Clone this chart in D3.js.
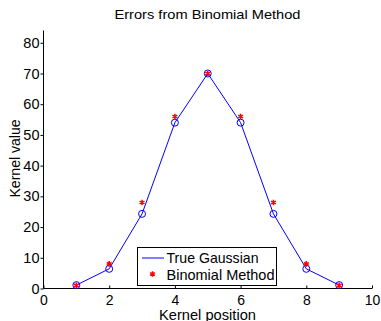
<!DOCTYPE html>
<meta charset="utf-8">
<style>
    body { margin: 0; background: #fff; }
    text { font-family: "Liberation Sans", Arial, sans-serif; fill: #000; }
</style>
<svg id="canvas" width="381" height="321"></svg>
<script src="https://d3js.org/d3.v7.min.js"></script>
<script>

    var positions = [1, 2, 3, 4, 5, 6, 7, 8, 9];
    var gaussian = [1.1, 6.4, 24.3, 54, 70, 54, 24.3, 6.4, 1.1];
    var binomial = [1, 8, 28, 56, 70, 56, 28, 8, 1];
    var xTicks = [0, 2, 4, 6, 8, 10];
    var yTicks = [0, 10, 20, 30, 40, 50, 60, 70, 80];

    var svg = d3.select("svg");

    var x = d3.scaleLinear().domain([0, 10]).range([43.5, 372]);
    var y = d3.scaleLinear().domain([0, 84]).range([288.5, 30.5]);

    // x axis: ticks point inward (up)
    var xAxis = svg.append("g")
                   .attr("transform", "translate(0," + y(0) + ")")
                   .call(d3.axisBottom(x).tickValues(xTicks).tickSize(-3).tickPadding(6));
    xAxis.selectAll("text").attr("font-size", 14).attr("dy", "0.72em");

    var yAxis = svg.append("g")
                   .attr("transform", "translate(" + x(0) + ",0)")
                   .call(d3.axisLeft(y).tickValues(yTicks).tickSize(3).tickPadding(1));
    yAxis.selectAll("text").attr("font-size", 14.5);

    svg.selectAll(".domain").attr("stroke", "#000").attr("d", null);
    xAxis.select(".domain").attr("d", "M" + x(0) + ",0H" + x(10));
    yAxis.select(".domain").attr("d", "M0," + y(0) + "V" + y(84));

    var pts = positions.map(function(p, i) { return {x: p, g: gaussian[i], b: binomial[i]}; });

    var line = d3.line()
                 .x(function(d) { return x(d.x); })
                 .y(function(d) { return y(d.g); });

    svg.append("path")
       .datum(pts)
       .attr("d", line)
       .attr("fill", "none")
       .attr("stroke", "#0000ff")
       .attr("stroke-width", 1);

    svg.append("g")
       .selectAll("circle")
       .data(pts)
       .enter().append("circle")
       .attr("cx", function(d) { return x(d.x); })
       .attr("cy", function(d) { return y(d.g); })
       .attr("r", 3.5)
       .attr("fill", "none")
       .attr("stroke", "#0000ff")
       .attr("stroke-width", 1);

    var star = d3.symbol().type(d3.symbolAsterisk).size(22);

    svg.append("g")
       .selectAll("path")
       .data(pts)
       .enter().append("path")
       .attr("d", star)
       .attr("transform", function(d) { return "translate(" + x(d.x) + "," + y(d.b) + ")"; })
       .attr("fill", "none")
       .attr("stroke", "#ff0000")
       .attr("stroke-width", 1.5);

    // legend
    var legend = svg.append("g");
    legend.append("rect")
          .attr("x", 137.5).attr("y", 247.5)
          .attr("width", 139).attr("height", 38)
          .attr("fill", "#fff").attr("stroke", "#000");
    legend.append("line")
          .attr("x1", 142).attr("x2", 164)
          .attr("y1", 258).attr("y2", 258)
          .attr("stroke", "#0000ff");
    legend.append("path")
          .attr("d", star)
          .attr("transform", "translate(152.5,274)")
          .attr("fill", "none").attr("stroke", "#ff0000").attr("stroke-width", 1.5);
    legend.append("text").attr("x", 166.5).attr("y", 263).attr("font-size", 14.5)
          .attr("textLength", 92).attr("lengthAdjust", "spacingAndGlyphs").text("True Gaussian");
    legend.append("text").attr("x", 166.5).attr("y", 279.5).attr("font-size", 14.5)
          .attr("textLength", 108).attr("lengthAdjust", "spacingAndGlyphs").text("Binomial Method");

    // title and labels
    svg.append("text")
       .attr("x", 207.5).attr("y", 18.7)
       .attr("text-anchor", "middle")
       .attr("font-size", 13.5)
       .attr("textLength", 186).attr("lengthAdjust", "spacingAndGlyphs")
       .text("Errors from Binomial Method");

    svg.append("text")
       .attr("x", 207.5).attr("y", 319.5)
       .attr("text-anchor", "middle")
       .attr("font-size", 14)
       .attr("textLength", 97).attr("lengthAdjust", "spacingAndGlyphs")
       .text("Kernel position");

    svg.append("text")
       .attr("transform", "translate(20,158.5) rotate(-90)")
       .attr("text-anchor", "middle")
       .attr("font-size", 14)
       .attr("textLength", 78).attr("lengthAdjust", "spacingAndGlyphs")
       .text("Kernel value");

</script>
